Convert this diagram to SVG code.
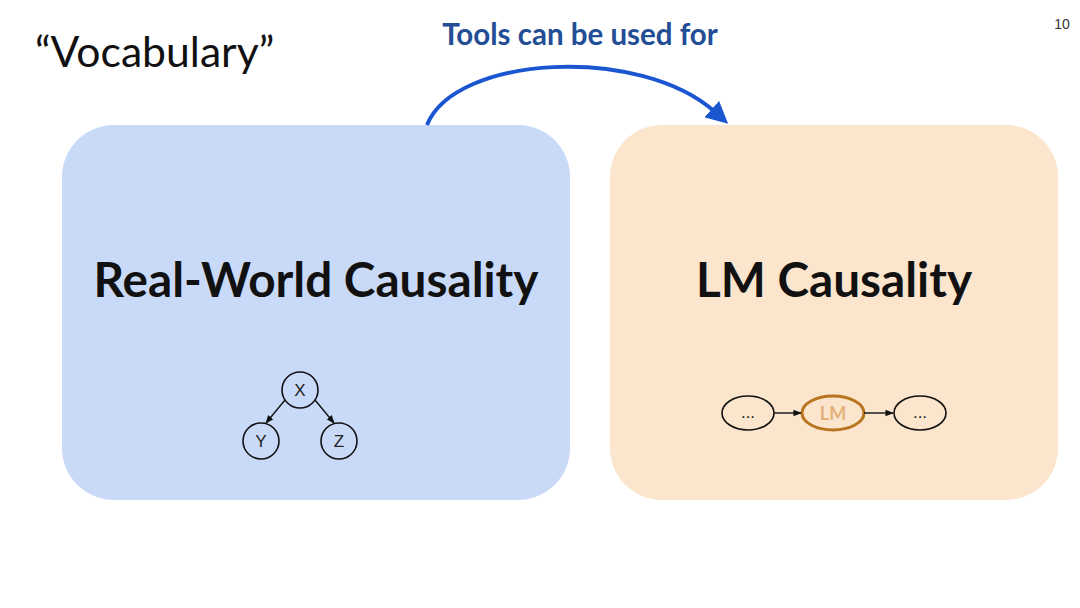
<svg xmlns="http://www.w3.org/2000/svg" width="1080" height="608" viewBox="0 0 1080 608">
<defs>
<style>
.t{font-family:Lato,"Liberation Sans",sans-serif}
.big{font-size:47.7px;font-weight:bold;fill:#111}
.node{fill:none;stroke:#111;stroke-width:1.6}
.sm{font-family:"Liberation Sans",Arial,sans-serif;font-size:17px;fill:#222}
.edge{stroke:#111;stroke-width:1.4;fill:none}
</style>
<marker id="ah" viewBox="0 0 10 10" refX="9" refY="5" markerWidth="6" markerHeight="6" orient="auto"><path d="M0,1 L10,5 L0,9 z" fill="#111"/></marker>
<marker id="big" viewBox="0 0 10 10" refX="2" refY="5" markerWidth="22" markerHeight="22" markerUnits="userSpaceOnUse" orient="auto"><path d="M0,0 L10,5 L0,10 z" fill="#1a56d0"/></marker>
</defs>
<rect width="1080" height="608" fill="#ffffff"/>
<text class="t" x="35" y="67" font-size="42.7" fill="#111">“Vocabulary”</text>
<text x="1062" y="29" font-family="Liberation Sans,Arial,sans-serif" font-size="14" fill="#333" text-anchor="middle">10</text>
<g id="realworld">
<rect x="62" y="125" width="508" height="375" rx="52" fill="#c9daf8"/>
<text class="t big" x="316" y="297" text-anchor="middle">Real-World Causality</text>
</g>
<g id="lm">
<rect x="610" y="125" width="448" height="375" rx="52" fill="#fce5cd"/>
<text class="t big" x="834" y="297" text-anchor="middle">LM Causality</text>
</g>
<g id="tree">
<circle class="node" cx="300" cy="390" r="18"/>
<text class="sm" x="300" y="396" text-anchor="middle">X</text>
<circle class="node" cx="261" cy="441" r="18"/>
<text class="sm" x="261" y="447" text-anchor="middle">Y</text>
<circle class="node" cx="339" cy="441" r="18"/>
<text class="sm" x="339" y="447" text-anchor="middle">Z</text>
</g>
<g id="chain">
<ellipse class="node" cx="748" cy="413" rx="26" ry="17"/>
<text class="sm" x="748" y="418" text-anchor="middle">...</text>
<ellipse cx="833" cy="413" rx="31" ry="17" fill="#fce5cd" stroke="#b8741e" stroke-width="3"/>
<text class="t" x="833" y="420" font-size="18" font-weight="bold" fill="#e3b07a" text-anchor="middle">LM</text>
<ellipse class="node" cx="920" cy="413" rx="26" ry="17"/>
<text class="sm" x="920" y="418" text-anchor="middle">...</text>
</g>
<g id="connectors">
<line class="edge" x1="285" y1="400" x2="266" y2="423" marker-end="url(#ah)"/>
<line class="edge" x1="315" y1="400" x2="334" y2="423" marker-end="url(#ah)"/>
<line class="edge" x1="774" y1="413" x2="801" y2="413" marker-end="url(#ah)"/>
<line class="edge" x1="864" y1="413" x2="893" y2="413" marker-end="url(#ah)"/>
<path d="M427,125 C455,55 640,45 715,112" fill="none" stroke="#1a56d0" stroke-width="4" marker-end="url(#big)"/>
<text class="t" x="580" y="45" font-size="29.5" font-weight="bold" fill="#234d94" text-anchor="middle">Tools can be used for</text>
</g>
</svg>
